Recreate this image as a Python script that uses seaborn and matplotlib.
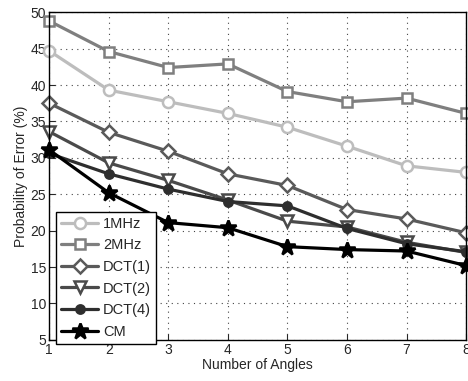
import seaborn as sns
import matplotlib.pyplot as plt
import pandas as pd

angles = [1, 2, 3, 4, 5, 6, 7, 8]
mhz1 = [44.7, 39.3, 37.7, 36.1, 34.2, 31.6, 28.9, 28.0]
mhz2 = [48.8, 44.6, 42.4, 42.9, 39.1, 37.7, 38.2, 36.1]
dct1 = [37.5, 33.5, 30.9, 27.8, 26.2, 22.9, 21.6, 19.7]
dct2 = [33.6, 29.3, 26.9, 24.2, 21.3, 20.5, 18.4, 17.0]
dct4 = [30.6, 27.8, 25.7, 24.0, 23.4, 20.3, 18.2, 17.1]
cm = [31.1, 25.2, 21.1, 20.4, 17.8, 17.4, 17.2, 15.2]

series = {'1MHz': mhz1, '2MHz': mhz2, 'DCT(1)': dct1,
          'DCT(2)': dct2, 'DCT(4)': dct4, 'CM': cm}

df = pd.DataFrame([(name, a, v) for name, vals in series.items()
                   for a, v in zip(angles, vals)],
                  columns=['method', 'angles', 'error'])

sns.set_style('ticks')
plt.rcParams['font.family'] = ['Liberation Sans', 'DejaVu Sans']
plt.rcParams['font.size'] = 10

colors = {'1MHz': '#bdbdbd', '2MHz': '#7f7f7f', 'DCT(1)': '#5a5a5a',
          'DCT(2)': '#4a4a4a', 'DCT(4)': '#2e2e2e', 'CM': '#000000'}
markers = {'1MHz': 'o', '2MHz': 's', 'DCT(1)': 'D', 'DCT(2)': 'v',
           'DCT(4)': 'o', 'CM': '*'}
msize = {'1MHz': 8, '2MHz': 7, 'DCT(1)': 7, 'DCT(2)': 9, 'DCT(4)': 6, 'CM': 12}

fig = plt.figure(figsize=(4.68, 3.81), dpi=100)
ax = fig.add_axes([0.105, 0.108, 0.891, 0.86])

for name in series:
    sub = df[df['method'] == name]
    filled = name in ('DCT(4)', 'CM')
    sns.lineplot(data=sub, x='angles', y='error', ax=ax, label=name,
                 color=colors[name], marker=markers[name], markersize=msize[name],
                 markerfacecolor=colors[name] if filled else 'white',
                 markeredgecolor=colors[name], markeredgewidth=1.8,
                 linewidth=2.3, clip_on=False)

ax.set_xlim(1, 8)
ax.set_ylim(5, 50)
ax.set_xticks(angles)
ax.set_yticks(range(5, 51, 5))
ax.grid(True, linestyle=(0, (1, 4)), color='#444444', linewidth=0.8)
ax.tick_params(direction='in', length=4, pad=2)
for s in ax.spines.values():
    s.set_linewidth(1.0)
    s.set_color('black')
ax.set_xlabel('Number of Angles', labelpad=1)
ax.set_ylabel('Probability of Error (%)', labelpad=2)

leg = ax.legend(loc='lower left', bbox_to_anchor=(0.017, -0.012),
                frameon=True, fancybox=False, framealpha=1,
                edgecolor='black', borderpad=0.35, labelspacing=0.52,
                handlelength=2.5, handletextpad=0.35, borderaxespad=0,
                fontsize=10.5)
leg.get_frame().set_linewidth(1.0)
leg.set_zorder(5)

fig.savefig('out.png', dpi=100)
